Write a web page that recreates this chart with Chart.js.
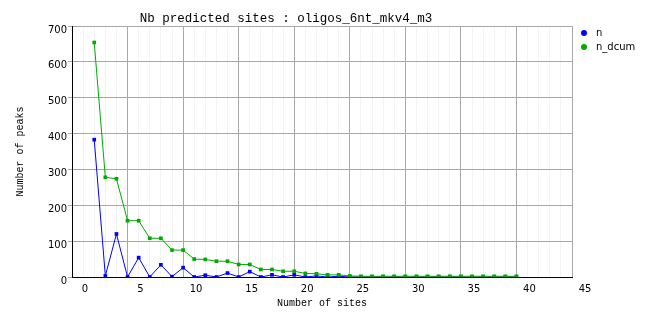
<!DOCTYPE html>
<html lang="en">
<head>
    <meta charset="UTF-8">
    <title>Nb predicted sites : oligos_6nt_mkv4_m3</title>
    <script src="https://cdn.jsdelivr.net/npm/chart.js"></script>
    <style>
        body {
            margin: 0;
            padding: 0;
            background-color: #ffffff;
        }

        #sitesChart {
            display: block;
        }
    </style>
</head>
<body>
    <canvas id="sitesChart" width="662" height="328"></canvas>

    <script>
        // Number of sites (x values)
        const sites = [1, 2, 3, 4, 5, 6, 7, 8, 9, 10, 11, 12, 13, 14, 15, 16, 17, 18, 19, 20,
                       21, 22, 23, 24, 25, 26, 27, 28, 29, 30, 31, 32, 33, 34, 35, 36, 37, 38, 39];

        // Number of peaks per number of sites
        const nValues = [383, 3, 120, 0, 54, 0, 34, 1, 26, 0, 5, 0, 11, 0, 15, 0, 6, 0, 6, 0,
                         3, 0, 2, 0, 0, 0, 0, 0, 0, 0, 0, 0, 0, 0, 0, 0, 0, 0, 0];

        // Decreasing cumulative count
        const nDcumValues = [654, 278, 274, 157, 157, 108, 108, 75, 75, 50, 49, 44, 44, 35, 35, 21, 21, 16, 16, 10,
                             9, 6, 6, 3, 2, 2, 2, 2, 2, 2, 2, 2, 2, 2, 2, 2, 2, 2, 2];

        const seriesNames = ['n', 'n_dcum'];
        const seriesColors = ['#0000ff', '#00aa00'];

        const majorGrid = '#a8a8a8';
        const minorGrid = '#f3f3f3';

        const toPoints = (values) => sites.map((s, i) => ({ x: s, y: values[i] }));

        // Small legend drawn in the top right corner
        const cornerLegend = {
            id: 'cornerLegend',
            afterDraw(chart) {
                const ctx = chart.ctx;
                ctx.save();
                ctx.font = '10px "DejaVu Sans"';
                ctx.textBaseline = 'middle';
                seriesNames.forEach((name, i) => {
                    const y = 33 + i * 14;
                    ctx.fillStyle = seriesColors[i];
                    ctx.beginPath();
                    ctx.arc(584, y, 3, 0, Math.PI * 2);
                    ctx.fill();
                    ctx.fillStyle = '#000000';
                    ctx.fillText(name, 596, y);
                });
                ctx.restore();
            }
        };

        const ctx = document.getElementById('sitesChart').getContext('2d');

        const sitesChart = new Chart(ctx, {
            type: 'line',
            data: {
                datasets: [
                    {
                        label: seriesNames[0],
                        data: toPoints(nValues),
                        borderColor: seriesColors[0],
                        backgroundColor: seriesColors[0],
                        borderWidth: 1,
                        pointStyle: 'rect',
                        pointRadius: 2.6,
                        pointBorderWidth: 0,
                        tension: 0,
                        order: 1
                    },
                    {
                        label: seriesNames[1],
                        data: toPoints(nDcumValues),
                        borderColor: seriesColors[1],
                        backgroundColor: seriesColors[1],
                        borderWidth: 1,
                        pointStyle: 'rect',
                        pointRadius: 2.6,
                        pointBorderWidth: 0,
                        tension: 0,
                        order: 0
                    }
                ]
            },
            options: {
                responsive: false,
                animation: false,
                layout: {
                    padding: { left: 0, right: 90, top: 0, bottom: 0 }
                },
                plugins: {
                    legend: { display: false },
                    tooltip: { enabled: false },
                    title: {
                        display: true,
                        text: 'Nb predicted sites : oligos_6nt_mkv4_m3',
                        color: '#000000',
                        font: { family: '"Liberation Mono"', size: 12.5, weight: 'normal', lineHeight: 1.2 },
                        padding: { top: 11, bottom: 0 }
                    }
                },
                scales: {
                    x: {
                        type: 'linear',
                        min: -1,
                        max: 44,
                        afterFit: (scale) => { scale.height = 51; },
                        ticks: {
                            stepSize: 1,
                            autoSkip: false,
                            maxRotation: 0,
                            labelOffset: 13,
                            padding: 6,
                            color: '#000000',
                            font: { family: '"DejaVu Sans"', size: 10 },
                            callback: (v) => ((v + 1) % 5 === 0 ? String(v + 1) : '')
                        },
                        grid: {
                            drawTicks: false,
                            color: (c) => ((c.tick.value + 1) % 5 === 0 ? majorGrid : minorGrid)
                        },
                        border: { color: '#000000', width: 1 },
                        title: {
                            display: true,
                            text: 'Number of sites',
                            color: '#000000',
                            font: { family: '"Liberation Mono"', size: 10, lineHeight: 1.2 },
                            padding: { top: 0, bottom: 19 }
                        }
                    },
                    y: {
                        min: 0,
                        max: 700,
                        afterFit: (scale) => { scale.width = 72; },
                        ticks: {
                            stepSize: 100,
                            padding: 1,
                            labelOffset: 4,
                            color: '#000000',
                            font: { family: '"DejaVu Sans"', size: 10 }
                        },
                        grid: {
                            color: majorGrid,
                            tickLength: 4
                        },
                        border: { color: '#000000', width: 1 },
                        title: {
                            display: true,
                            text: 'Number of peaks',
                            color: '#000000',
                            font: { family: '"Liberation Mono"', size: 10, lineHeight: 1.2 },
                            padding: { top: 14, bottom: 0 }
                        }
                    }
                }
            },
            plugins: [cornerLegend]
        });
    </script>
</body>
</html>
